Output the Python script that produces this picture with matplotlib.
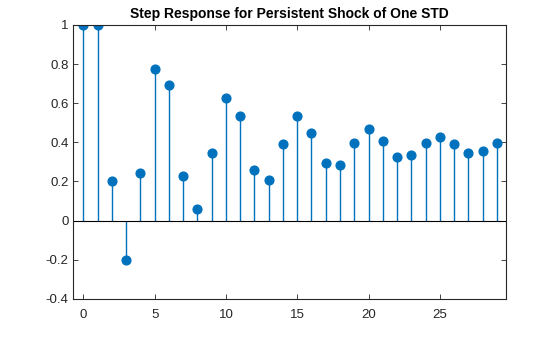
import matplotlib.pyplot as plt
import numpy as np

steps = np.arange(30)
response = [1.0, 1.0, 0.2, -0.2, 0.241, 0.777, 0.695, 0.227, 0.057, 0.344,
            0.628, 0.536, 0.26, 0.207, 0.39, 0.533, 0.45, 0.296, 0.282, 0.398,
            0.47, 0.409, 0.327, 0.334, 0.398, 0.429, 0.393, 0.347, 0.357, 0.398]

plt.rcParams['font.family'] = ['Liberation Sans', 'DejaVu Sans']
plt.rcParams['font.size'] = 9.5

fig = plt.figure(figsize=(5.6, 3.37), dpi=100)
ax = fig.add_axes([0.131, 0.113, 0.773, 0.813])

blue = '#0072BD'
dark = '#262626'
markerline, stemlines, baseline = ax.stem(steps, response, basefmt='k-')
plt.setp(stemlines, color=blue, linewidth=1)
plt.setp(markerline, color=blue, markersize=6.3, markeredgecolor=blue)
plt.setp(baseline, color='black', linewidth=0.8)
baseline.set_xdata([-0.7, 29.7])

ax.set_xlim(-0.7, 29.66)
ax.set_ylim(-0.4, 1)
ax.set_xticks([0, 5, 10, 15, 20, 25])
ax.set_yticks(np.arange(-0.4, 1.01, 0.2))
ax.set_yticklabels(['-0.4', '-0.2', '0', '0.2', '0.4', '0.6', '0.8', '1'])
ax.tick_params(direction='in', top=True, right=True, length=3.5, width=0.6,
               colors=dark, labelcolor=dark, labelsize=9.5)
ax.tick_params(axis='x', pad=7)
for s in ax.spines.values():
    s.set_color(dark)
    s.set_linewidth(0.8)

ax.set_title('Step Response for Persistent Shock of One STD', fontweight='bold',
             fontsize=10, color='black', pad=5)

fig.savefig('out.png', dpi=100)
